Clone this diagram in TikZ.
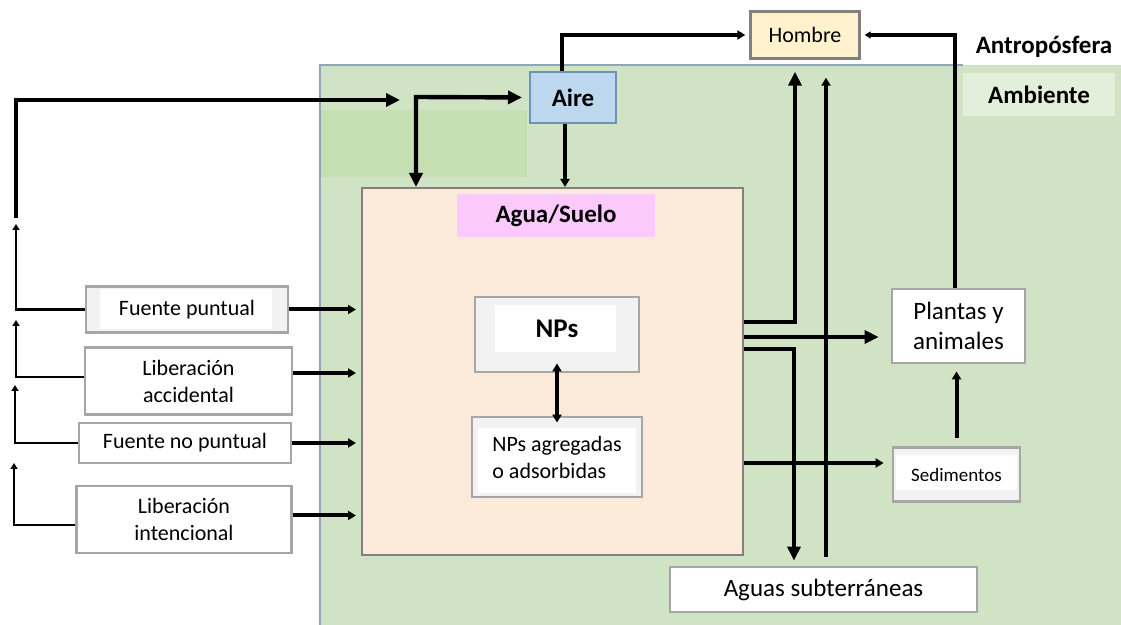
\documentclass[tikz,border=0pt]{standalone}
\usepackage{fontspec}
\setmainfont{Carlito}
\usetikzlibrary{arrows.meta}
\usetikzlibrary{positioning}

\definecolor{umwelt}{HTML}{D0E3C4}
\definecolor{umweltdunkel}{HTML}{C5DFB3}
\definecolor{ambientfarbe}{HTML}{E2EFDA}
\definecolor{pfirsich}{HTML}{FBE9D9}
\definecolor{rosa}{HTML}{FBC9FB}
\definecolor{airefarbe}{HTML}{BDD7EE}
\definecolor{airerand}{HTML}{6F92B8}
\definecolor{hombrefarbe}{HTML}{FFF2CC}
\definecolor{rahmen}{HTML}{A6A6A6}
\definecolor{randgrau}{HTML}{F2F2F2}
\definecolor{linie}{HTML}{8FA6BA}

\begin{document}
\begin{tikzpicture}[x=0.5pt,y=-0.5pt,
  kasten/.style={draw=rahmen,line width=1.4pt,fill=white,inner sep=0pt,align=center,font=\fontsize{11}{13.5}\selectfont},
  titel/.style={inner sep=0pt,font=\bfseries\fontsize{12.5}{15}\selectfont},
  rand/.style n args={4}{fill=randgrau,path picture={\fill[white] ([xshift=#1,yshift=-#2]path picture bounding box.north west) rectangle ([xshift=-#3,yshift=#4]path picture bounding box.south east);}},
  strom/.style={line width=2.2pt,-{Triangle[length=7pt,width=6.5pt]}},
  zweig/.style={line width=2pt,-{Triangle[length=4pt,width=4.5pt]}},
  rueck/.style={line width=1.4pt,-{Triangle[length=3pt,width=3.5pt]}}]
  \useasboundingbox (0,0) rectangle (1121,625);

  % Umwelt
  \fill[umwelt] (320,65) rectangle (1121,625);
  \fill[umweltdunkel] (321,110) rectangle (527,177);
  \draw[linie,line width=1pt] (320,625) -- (320,65) -- (963,65);
  \node[titel,fill=ambientfarbe,minimum width=76pt,minimum height=21.5pt] (ambiente) at (1039,94.5) {Ambiente};
  \node[titel] (antropo) at (1044,47) {Antropósfera};

  % Agua/Suelo
  \node[draw=gray,line width=1pt,fill=pfirsich,minimum width=190.5pt,minimum height=183.5pt,inner sep=0pt] (agua) at (552.5,371.5) {};
  \node[titel,fill=rosa,minimum width=99pt,minimum height=21.5pt] (etikett) at (556,215.5) {Agua/Suelo};
  \node[kasten,rand={10pt}{4pt}{11.5pt}{10pt},minimum width=82pt,minimum height=37.5pt,font=\bfseries\fontsize{13.5}{16}\selectfont] (nps) at (557,334.5) {\raisebox{6pt}{NPs}};
  \node[kasten,rand={3pt}{5.5pt}{3pt}{2pt},minimum width=85pt,minimum height=40pt,align=left] (agr) at (557,457) {NPs agregadas\\o adsorbidas};

  % Quellen
  \node[kasten,rand={7pt}{1.5pt}{8pt}{1.5pt},minimum width=101pt,minimum height=23pt] (fp) at (187,309.5) {Fuente puntual};
  \node[kasten,minimum width=103.5pt,minimum height=33.5pt] (la) at (188.5,381) {Liberación\\accidental};
  \node[kasten,minimum width=106pt,minimum height=20pt] (fnp) at (185,443) {Fuente no puntual};
  \node[kasten,minimum width=107.5pt,minimum height=33.5pt] (li) at (184,519.5) {Liberación\\intencional};

  % Senken
  \node[kasten,minimum width=66.5pt,minimum height=37pt,font=\fontsize{12.5}{15}\selectfont] (plantas) at (958.5,326) {Plantas y\\animales};
  \node[kasten,rand={1.5pt}{4pt}{1.5pt}{5.5pt},minimum width=63.5pt,minimum height=27pt,font=\fontsize{9.5}{11}\selectfont] (sed) at (956.5,474.5) {Sedimentos};
  \node[kasten,minimum width=153.5pt,minimum height=22.5pt,font=\fontsize{12.5}{15}\selectfont] (aguas) at (823.5,589.5) {Aguas subterráneas};
  \node[kasten,fill=hombrefarbe,line width=1.2pt,draw=gray,minimum width=54.5pt,minimum height=23.5pt] (hombre) at (805,35) {Hombre};
  \node[titel,draw=airerand,line width=1pt,fill=airefarbe,minimum width=43pt,minimum height=25.5pt] (aire) at (573,97.5) {Aire};

  % Luft
  \draw[zweig,shorten >=2pt] ([xshift=-5.5pt]aire.north) |- (hombre.west);
  \draw[zweig] ([xshift=-4pt]aire.south) -- ([xshift=-4pt]aire.south |- agua.north);
  \coordinate (knick) at (416,97);
  \draw[line width=2.2pt,{Triangle[length=7pt,width=6.5pt]}-{Triangle[length=7pt,width=6.5pt]},shorten >=3.5pt] (knick |- agua.north) -- (knick) -- (aire.west);

  % Rueckfluss links
  \coordinate (ziel) at (400,100);
  \coordinate (ecke) at (16,100);
  \coordinate (e0) at (16,218);
  \coordinate (e1) at (16,224);
  \coordinate (e2) at (16,320);
  \coordinate (e3) at (15,385);
  \coordinate (e4) at (14,463);
  \draw[strom] (e0) -- (ecke) -- (ziel);
  \draw[rueck] (fp.west) -| (e1);
  \draw[rueck] ([yshift=2pt]la.west) -| (e2);
  \draw[rueck] (fnp.west) -| (e3);
  \draw[rueck] ([yshift=-2.75pt]li.west) -| (e4);

  % Eintrag
  \draw[zweig,shorten >=2.5pt] (fp.east) -- (fp.east -| agua.west);
  \draw[zweig,shorten >=2.5pt] ([yshift=4pt]la.east) -- ([yshift=4pt]la.east -| agua.west);
  \draw[zweig,shorten >=2.5pt] (fnp.east) -- (fnp.east -| agua.west);
  \draw[zweig,shorten >=2.5pt] ([yshift=2pt]li.east) -- ([yshift=2pt]li.east -| agua.west);

  % Austrag rechts
  \draw[strom] (agua.east |- 0,322) -| ([xshift=-5pt,yshift=-6pt]hombre.south);
  \draw[strom,shorten >=6pt] (agua.east |- 0,337) -- (plantas.west |- 0,337);
  \draw[strom,shorten >=2.5pt] (agua.east |- 0,349) -| ([xshift=-14.75pt]aguas.north);
  \draw[zweig,line width=1.6pt,shorten >=4pt] (agua.east |- 0,463) -- (sed.west |- 0,463);
  \draw[zweig] ([xshift=1.25pt,yshift=4.5pt]aguas.north) -- ([xshift=10.5pt,yshift=-9pt]hombre.south);
  \draw[rueck,line width=1.6pt,shorten >=2pt] ([xshift=-1.75pt]plantas.north) |- (hombre.east);
  \draw[zweig,shorten <=4pt,shorten >=3.5pt] (sed.north) -- (sed.north |- plantas.south);
  \draw[line width=2pt,{Triangle[length=4pt,width=4.5pt]}-{Triangle[length=4pt,width=4.5pt]}] ([yshift=5pt]nps.south) -- ([yshift=-3.5pt]agr.north);
\end{tikzpicture}
\end{document}
